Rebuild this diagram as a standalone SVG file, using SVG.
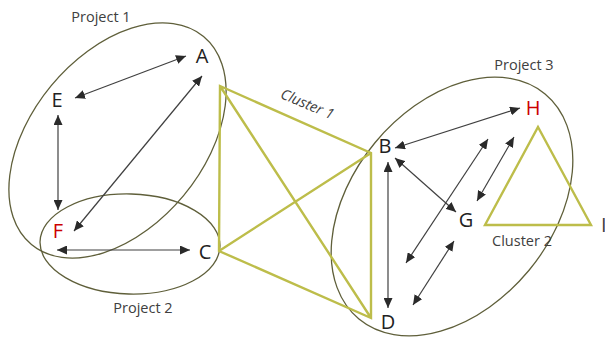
<svg xmlns="http://www.w3.org/2000/svg" width="605" height="337" viewBox="0 0 605 337">
<style>
.proj{fill:none;stroke:#5f5f3a;stroke-width:1.3}
.clu{fill:none;stroke:#bdbd4a;stroke-width:2.4;stroke-linejoin:miter}
.arr{stroke:#404040;stroke-width:1.2;fill:none;marker-start:url(#ah);marker-end:url(#ah)}
.node{font-family:"Open Sans","Noto Sans",sans-serif;font-size:20px;fill:#222;text-anchor:middle}
.red{fill:#cc0000}
.lbl{font-family:"Open Sans","Noto Sans",sans-serif;font-size:14.5px;fill:#404040;text-anchor:middle}
</style>
<defs>
<marker id="ah" markerUnits="userSpaceOnUse" markerWidth="11" markerHeight="9" refX="10" refY="4.5" orient="auto-start-reverse">
<path d="M0,0 L10,4.5 L0,9 z" fill="#2a2a2a"/>
</marker>
</defs>
<g id="groups">
<ellipse id="project1" class="proj" cx="117.5" cy="140.5" rx="135" ry="86" transform="rotate(-50.4 117.5 140.5)"/>
<ellipse id="project2" class="proj" cx="130" cy="244" rx="90" ry="50" transform="rotate(1.5 130 244)"/>
<ellipse id="project3" class="proj" cx="452" cy="206.5" rx="146" ry="100" transform="rotate(-50.4 452 206.5)"/>
<g id="cluster1">
<path class="clu" d="M220,86 L371,153 L371,318 L219,251 Z M220,86 L219,251 M220,86 L371,318 M219,251 L371,153"/>
</g>
<g id="cluster2">
<path class="clu" d="M538,127 L591,225 L485,225 Z"/>
</g>
</g>
<g id="connectors">
<line class="arr" x1="75" y1="98" x2="186" y2="56"/>
<line class="arr" x1="58" y1="115" x2="58" y2="210"/>
<line class="arr" x1="74" y1="231" x2="202" y2="76"/>
<line class="arr" x1="57" y1="250" x2="190" y2="250"/>
<line class="arr" x1="395" y1="148" x2="520" y2="108"/>
<line class="arr" x1="388" y1="162" x2="388" y2="308"/>
<line class="arr" x1="395" y1="158" x2="456" y2="212"/>
<line class="arr" x1="406" y1="263" x2="488" y2="139"/>
<line class="arr" x1="477" y1="201" x2="514" y2="137"/>
<line class="arr" x1="454" y1="241" x2="413" y2="305"/>
</g>
<g id="node-A"><text class="node" x="202" y="63">A</text></g>
<g id="node-E"><text class="node" x="57" y="107">E</text></g>
<g id="node-F"><text class="node red" x="58" y="238">F</text></g>
<g id="node-C"><text class="node" x="205" y="259">C</text></g>
<g id="node-B"><text class="node" x="385" y="153">B</text></g>
<g id="node-H"><text class="node red" x="533" y="115">H</text></g>
<g id="node-G"><text class="node" x="466" y="227">G</text></g>
<g id="node-D"><text class="node" x="388" y="329">D</text></g>
<g id="labels">
<text class="lbl" x="101" y="22">Project 1</text>
<text class="lbl" x="143" y="313">Project 2</text>
<text class="lbl" x="524" y="70">Project 3</text>
<text class="lbl" x="522" y="246">Cluster 2</text>
<text class="lbl" x="307" y="109" font-style="italic" transform="rotate(23 307 105)">Cluster 1</text>
<text class="node" x="601" y="232" style="fill:#404040;text-anchor:start">I</text>
</g>
</svg>
